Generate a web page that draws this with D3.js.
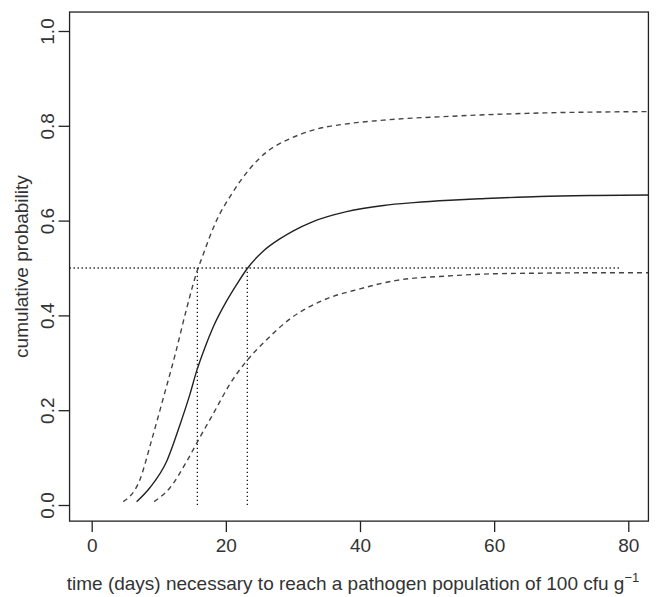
<!DOCTYPE html>
<html>
  <head>
    <meta charset="utf-8">
    <title>Cumulative probability</title>
    <script src="https://d3js.org/d3.v7.min.js"></script>
    <style>
      body { margin: 0; background: #fff; }
      text { font-family: "Liberation Sans", Arial, sans-serif; fill: #333; }
    </style>
  </head>
  <body>
    <script>
      var width = 657;
      var height = 597;

      // tick values
      var xTicks = [0, 20, 40, 60, 80];
      var yTicks = [0.0, 0.2, 0.4, 0.6, 0.8, 1.0];

      // median curve (solid)
      var medianDays = [6.7, 8.7, 11.2, 13.2, 14.65, 15.65, 16.9, 18.1, 20.1, 21.6, 23.2, 25.6, 28.1, 30.0, 33.0, 38.0, 43.5, 48.0, 53.4, 57.9, 66.8, 75, 84];
      var medianProb = [0.007, 0.037, 0.093, 0.171, 0.234, 0.283, 0.333, 0.375, 0.430, 0.465, 0.499, 0.536, 0.562, 0.578, 0.598, 0.619, 0.632, 0.638, 0.643, 0.646, 0.651, 0.653, 0.654];

      // upper bound (dashed)
      var upperDays = [4.7, 7.2, 8.9, 10.7, 12.4, 14.2, 15.75, 16.4, 17.6, 18.6, 20.6, 23.6, 26.1, 29.6, 33.0, 38.5, 43.5, 53.4, 66.9, 84];
      var upperProb = [0.007, 0.054, 0.135, 0.227, 0.315, 0.417, 0.495, 0.52, 0.566, 0.60, 0.65, 0.71, 0.745, 0.773, 0.791, 0.805, 0.812, 0.820, 0.827, 0.830];

      // lower bound (dashed)
      var lowerDays = [9.3, 11.7, 14.2, 16.1, 18.1, 20.6, 23.1, 25.6, 29.6, 34.5, 40.0, 45.5, 52.9, 60.4, 66.3, 75, 84];
      var lowerProb = [0.007, 0.037, 0.093, 0.142, 0.192, 0.255, 0.304, 0.342, 0.393, 0.432, 0.456, 0.474, 0.483, 0.488, 0.489, 0.490, 0.490];

      // reference lines: probability 0.5 and the days where the curves reach it
      var refProb = 0.5;
      var refDays = [15.75, 23.2];
      var refEnd = 78.8;

      var xScale = d3.scaleLinear().domain([0, 80]).range([91.7, 628.3]);
      var yScale = d3.scaleLinear().domain([0, 1]).range([505, 31]);

      var boxLeft = xScale(-3.3), boxRight = xScale(83);
      var boxTop = yScale(1.04), boxBottom = yScale(-0.034);

      var svg = d3.select("body")
        .append("svg")
          .attr("width", width)
          .attr("height", height);

      svg.append("clipPath")
          .attr("id", "plot-clip")
        .append("rect")
          .attr("x", boxLeft)
          .attr("y", boxTop)
          .attr("width", boxRight - boxLeft)
          .attr("height", boxBottom - boxTop);

      function toPoints(xs, ys) {
        return xs.map(function(d, i) { return [d, ys[i]]; });
      }

      var line = d3.line()
          .x(function(d) { return xScale(d[0]); })
          .y(function(d) { return yScale(d[1]); })
          .curve(d3.curveMonotoneX);

      var plot = svg.append("g").attr("clip-path", "url(#plot-clip)");

      // dotted reference lines
      plot.append("line")
          .attr("x1", boxLeft)
          .attr("x2", xScale(refEnd))
          .attr("y1", yScale(refProb))
          .attr("y2", yScale(refProb))
          .attr("stroke", "#111")
          .attr("stroke-width", 1.3)
          .attr("stroke-dasharray", "1.3 2.7");

      plot.selectAll("line.vref")
        .data(refDays)
        .enter()
        .append("line")
          .classed("vref", true)
          .attr("x1", function(d) { return xScale(d); })
          .attr("x2", function(d) { return xScale(d); })
          .attr("y1", yScale(0))
          .attr("y2", yScale(refProb))
          .attr("stroke", "#111")
          .attr("stroke-width", 1.3)
          .attr("stroke-dasharray", "1.3 2.7");

      plot.append("path")
          .attr("d", line(toPoints(upperDays, upperProb)))
          .attr("fill", "none")
          .attr("stroke", "#444")
          .attr("stroke-width", 1.4)
          .attr("stroke-dasharray", "5 4");

      plot.append("path")
          .attr("d", line(toPoints(lowerDays, lowerProb)))
          .attr("fill", "none")
          .attr("stroke", "#444")
          .attr("stroke-width", 1.4)
          .attr("stroke-dasharray", "5 4");

      plot.append("path")
          .attr("d", line(toPoints(medianDays, medianProb)))
          .attr("fill", "none")
          .attr("stroke", "#222")
          .attr("stroke-width", 1.4);

      // frame
      svg.append("rect")
          .attr("x", boxLeft)
          .attr("y", boxTop)
          .attr("width", boxRight - boxLeft)
          .attr("height", boxBottom - boxTop)
          .attr("fill", "none")
          .attr("stroke", "#222")
          .attr("stroke-width", 1.3);

      // x axis
      var xAxis = d3.axisBottom(xScale)
          .tickValues(xTicks)
          .tickSize(11)
          .tickPadding(6)
          .tickFormat(d3.format("d"));

      var gx = svg.append("g")
          .attr("transform", "translate(0," + boxBottom + ")")
          .call(xAxis);
      gx.select(".domain").remove();
      gx.selectAll(".tick line").attr("stroke", "#222").attr("stroke-width", 1.3);
      gx.selectAll(".tick text")
          .attr("font-size", 19)
          .attr("font-family", "Liberation Sans, Arial, sans-serif")
          .attr("fill", "#333");

      // y axis
      var yAxis = d3.axisLeft(yScale)
          .tickValues(yTicks)
          .tickSize(11)
          .tickFormat(d3.format(".1f"));

      var gy = svg.append("g")
          .attr("transform", "translate(" + boxLeft + ",0)")
          .call(yAxis);
      gy.select(".domain").remove();
      gy.selectAll(".tick line").attr("stroke", "#222").attr("stroke-width", 1.3);
      gy.selectAll(".tick text")
          .attr("font-size", 19)
          .attr("font-family", "Liberation Sans, Arial, sans-serif")
          .attr("fill", "#333")
          .attr("x", null)
          .attr("dy", null)
          .attr("text-anchor", "middle")
          .attr("transform", "translate(-16,0) rotate(-90)");

      // axis titles
      var xTitle = svg.append("text")
          .attr("x", (boxLeft + boxRight) / 2 - 6)
          .attr("y", 590)
          .attr("text-anchor", "middle")
          .attr("font-size", 19);
      xTitle.append("tspan").text("time (days) necessary to reach a pathogen population of 100 cfu g");
      xTitle.append("tspan")
          .attr("font-size", 13)
          .attr("dy", -8)
          .text("\u22121");

      svg.append("text")
          .attr("transform", "translate(28," + ((boxTop + boxBottom) / 2) + ") rotate(-90)")
          .attr("text-anchor", "middle")
          .attr("font-size", 19)
          .text("cumulative probability");
    </script>
  </body>
</html>
